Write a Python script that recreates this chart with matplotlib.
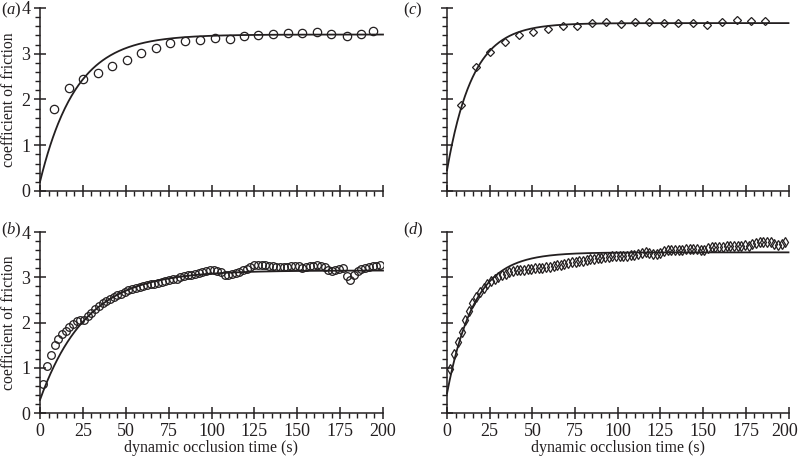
import numpy as np
import matplotlib
matplotlib.use("Agg")
import matplotlib.pyplot as plt
import matplotlib.transforms as mtransforms
from matplotlib.ticker import MultipleLocator

plt.rcParams["font.family"] = "Liberation Serif"
plt.rcParams["mathtext.fontset"] = "custom"
plt.rcParams["mathtext.rm"] = "Liberation Serif"
plt.rcParams["mathtext.it"] = "Liberation Serif:italic"

INK = "#231f20"

# panel (a): sparse circles
t_a = [8.2, 16.9, 25.1, 33.7, 42.2, 50.6, 59.0, 67.6, 76.0, 84.7, 93.3, 101.9,
       110.5, 119.0, 127.4, 136.0, 144.4, 152.8, 161.4, 169.9, 178.8, 187.0, 194.3]
mu_a = [1.80, 2.25, 2.44, 2.59, 2.73, 2.87, 3.01, 3.12, 3.23, 3.28, 3.30, 3.34,
        3.32, 3.38, 3.42, 3.44, 3.45, 3.46, 3.47, 3.44, 3.39, 3.44, 3.50]

# panel (c): sparse diamonds
t_c = [8.2, 16.8, 25.0, 33.8, 42.1, 50.5, 58.9, 67.7, 76.1, 84.7, 93.1, 101.7,
       110.0, 118.4, 126.8, 135.4, 143.8, 152.2, 160.8, 169.6, 178.0, 186.5]
mu_c = [1.87, 2.71, 3.03, 3.26, 3.42, 3.47, 3.54, 3.61, 3.61, 3.67, 3.69, 3.65,
        3.70, 3.70, 3.67, 3.67, 3.67, 3.63, 3.70, 3.73, 3.72, 3.72]

# panels (b) and (d): dense sampling
t_bd = [2.0, 4.2, 6.3, 8.5, 10.6, 12.8, 14.9, 17.1, 19.2, 21.4, 23.6, 25.7,
        27.9, 30.0, 32.2, 34.3, 36.5, 38.7, 40.8, 43.0, 45.1, 47.3, 49.4, 51.6,
        53.7, 55.9, 58.1, 60.2, 62.4, 64.5, 66.7, 68.8, 71.0, 73.1, 75.3, 77.5,
        79.6, 81.8, 83.9, 86.1, 88.2, 90.4, 92.6, 94.7, 96.9, 99.0, 101.2, 103.3,
        105.5, 107.6, 109.8, 112.0, 114.1, 116.3, 118.4, 120.6, 122.7, 124.9, 127.0, 129.2,
        131.4, 133.5, 135.7, 137.8, 140.0, 142.1, 144.3, 146.5, 148.6, 150.8, 152.9, 155.1,
        157.2, 159.4, 161.5, 163.7, 165.9, 168.0, 170.2, 172.3, 174.5, 176.6, 178.8, 180.9,
        183.1, 185.3, 187.4, 189.6, 191.7, 193.9, 196.0, 198.2]
mu_b = [0.65, 1.03, 1.29, 1.50, 1.63, 1.74, 1.82, 1.90, 1.97, 2.03, 2.06, 2.06,
        2.14, 2.22, 2.29, 2.36, 2.43, 2.48, 2.52, 2.56, 2.60, 2.64, 2.67, 2.71,
        2.74, 2.76, 2.78, 2.80, 2.82, 2.84, 2.86, 2.88, 2.90, 2.92, 2.94, 2.96,
        2.97, 3.00, 3.02, 3.04, 3.05, 3.07, 3.09, 3.11, 3.13, 3.15, 3.15, 3.14,
        3.12, 3.06, 3.05, 3.07, 3.09, 3.11, 3.15, 3.19, 3.22, 3.26, 3.27, 3.27,
        3.26, 3.25, 3.24, 3.23, 3.22, 3.22, 3.23, 3.24, 3.25, 3.24, 3.20, 3.22,
        3.24, 3.25, 3.26, 3.25, 3.22, 3.16, 3.14, 3.15, 3.18, 3.20, 3.02, 2.94,
        3.06, 3.13, 3.18, 3.21, 3.22, 3.24, 3.25, 3.27]
mu_d = [0.98, 1.30, 1.56, 1.80, 2.06, 2.26, 2.42, 2.57, 2.68, 2.77, 2.85, 2.91,
        2.96, 3.01, 3.05, 3.08, 3.11, 3.13, 3.15, 3.16, 3.17, 3.18, 3.19, 3.20,
        3.20, 3.21, 3.22, 3.23, 3.24, 3.26, 3.28, 3.30, 3.32, 3.33, 3.34, 3.35,
        3.37, 3.38, 3.40, 3.41, 3.42, 3.43, 3.44, 3.45, 3.46, 3.46, 3.47, 3.47,
        3.48, 3.49, 3.50, 3.52, 3.54, 3.55, 3.54, 3.52, 3.51, 3.54, 3.59, 3.60,
        3.60, 3.60, 3.61, 3.61, 3.62, 3.62, 3.63, 3.62, 3.61, 3.60, 3.64, 3.67,
        3.67, 3.67, 3.67, 3.68, 3.68, 3.69, 3.70, 3.70, 3.71, 3.70, 3.73, 3.76,
        3.78, 3.79, 3.78, 3.77, 3.74, 3.72, 3.74, 3.79]

# exponential fits: plateau, start value, time constant (s)
fit_a = (3.42, 0.20, 21.0)
fit_b = (3.15, 0.29, 27.0)
fit_c = (3.67, 0.45, 15.0)
fit_d = (3.55, 0.43, 15.8)


def fit_curve(p, t):
    mu_max, mu0, tau = p
    return mu_max - (mu_max - mu0) * np.exp(-t / tau)


def style_axes(ax, show_xlabels, show_ylabels):
    ax.set_xlim(0, 200)
    ax.set_ylim(0, 4)
    for s in ["top", "right"]:
        ax.spines[s].set_visible(False)
    for s in ["left", "bottom"]:
        ax.spines[s].set_linewidth(1.1)
        ax.spines[s].set_color(INK)
    ax.xaxis.set_major_locator(MultipleLocator(25))
    ax.xaxis.set_minor_locator(MultipleLocator(5))
    ax.yaxis.set_major_locator(MultipleLocator(1))
    ax.yaxis.set_minor_locator(MultipleLocator(0.2))
    ax.tick_params(which="major", direction="inout", length=8, width=1.1,
                   color=INK, labelsize=13, labelcolor=INK)
    ax.tick_params(which="minor", direction="out", length=3.5, width=1.0, color=INK)
    ax.tick_params(axis="x", which="major", pad=3)
    ax.tick_params(axis="y", which="major", pad=3)
    if not show_xlabels:
        ax.tick_params(axis="x", labelbottom=False)
    else:
        ax.set_xlabel("dynamic occlusion time (s)", fontsize=11.5, color=INK)
        ax.xaxis.set_label_coords(0.5, -0.15)
    if not show_ylabels:
        ax.tick_params(axis="y", labelleft=False)
    else:
        ax.set_ylabel("coefficient of friction", fontsize=11.3, color=INK)
        ax.yaxis.set_label_coords(-0.068, 0.5)


fig = plt.figure(figsize=(8, 4.58), dpi=100)
W, H = 800, 458


def add_axes(x0, x1, ytop, ybot):
    return fig.add_axes([x0 / W, 1 - ybot / H, (x1 - x0) / W, (ybot - ytop) / H])


ax_a = add_axes(40, 383, 8, 191)
ax_c = add_axes(447, 788.5, 8, 191)
ax_b = add_axes(40, 383, 232, 413)
ax_d = add_axes(447, 788.5, 232, 413)

tt = np.linspace(0, 200, 400)

ax_a.plot(tt, fit_curve(fit_a, tt), color=INK, lw=1.3, clip_on=False)
ax_a.plot(t_a, mu_a, "o", mfc="none", mec=INK, ms=6, mew=0.9)

ax_c.plot(tt, fit_curve(fit_c, tt), color=INK, lw=1.3, clip_on=False)
ax_c.plot(t_c, mu_c, "D", mfc="none", mec=INK, ms=4.0, mew=0.9)

ax_b.plot(tt, fit_curve(fit_b, tt), color=INK, lw=1.3, clip_on=False)
ax_b.plot(t_bd, mu_b, "o", mfc="none", mec=INK, ms=5.5, mew=0.9)

ax_d.plot(tt, fit_curve(fit_d, tt), color=INK, lw=1.3, clip_on=False)
ax_d.plot(t_bd, mu_d, "d", mfc="none", mec=INK, ms=4.6, mew=0.9)

style_axes(ax_a, False, True)
style_axes(ax_c, False, False)
style_axes(ax_b, True, True)
style_axes(ax_d, True, False)

# keep the last tick label of (d) inside the figure, as in the original
fig.canvas.draw()
last = [lb for lb in ax_d.get_xticklabels() if lb.get_text() == "200"]
for lb in last:
    lb.set_horizontalalignment("right")
    lb.set_transform(lb.get_transform() +
                     mtransforms.ScaledTranslation(0.09, 0, fig.dpi_scale_trans))

for lab, (x, y) in zip("abcd", [(1, 10), (1, 230), (403, 10), (403, 230)]):
    fig.text(x / W, 1 - y / H, "($%s$)" % lab, fontsize=12, color=INK,
             ha="left", va="center")

fig.savefig("out.png", dpi=100)
